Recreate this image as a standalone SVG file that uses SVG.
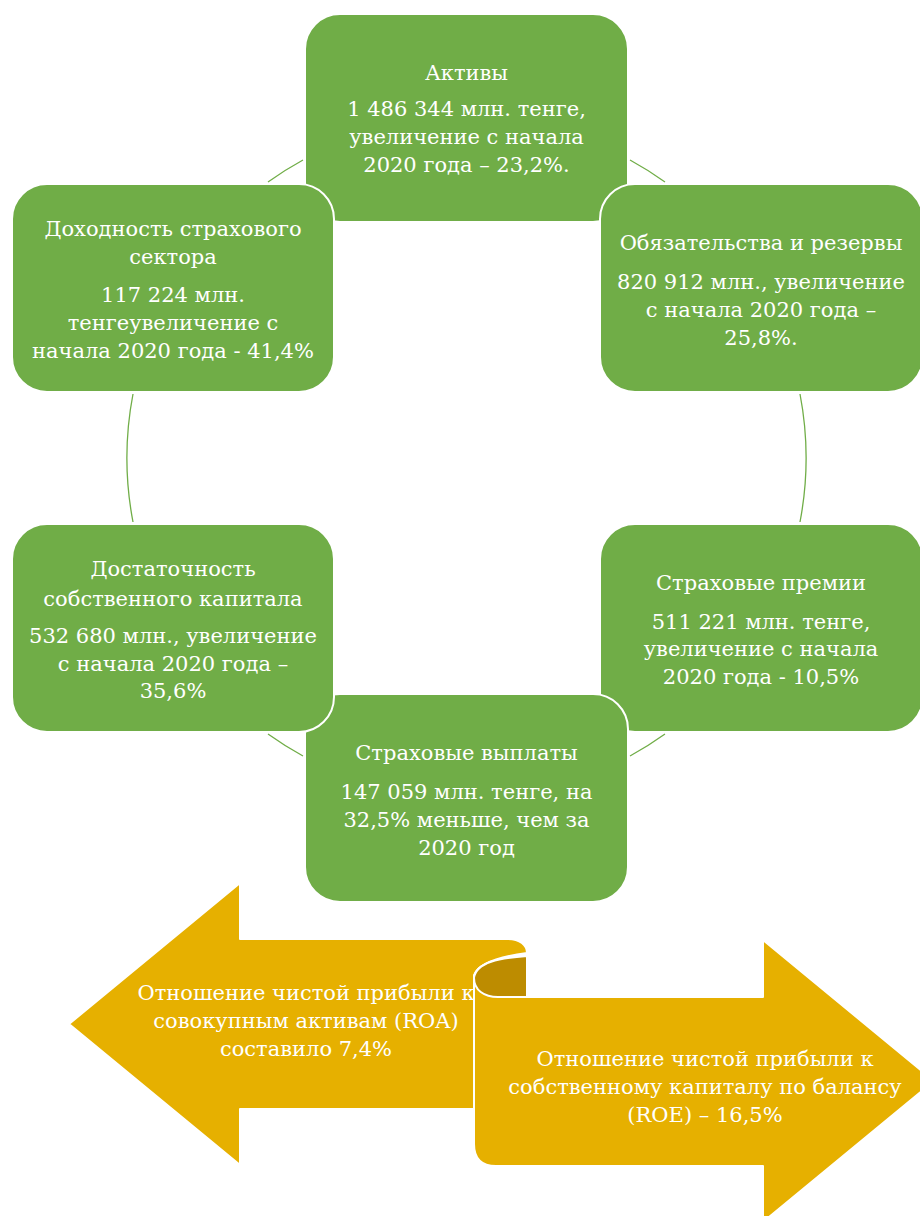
<svg xmlns="http://www.w3.org/2000/svg" width="920" height="1216" viewBox="0 0 920 1216">
<defs>
<style>
.box{fill:#70AD47;stroke:#FFFFFF;stroke-width:2}
.conn{fill:none;stroke:#70AD47;stroke-width:1.3}
.t{font-family:'DejaVu Serif','Liberation Serif',serif;font-size:21px;fill:#FFFFFF;text-anchor:middle}
.gold{fill:#E6B000;stroke:#FFFFFF;stroke-width:2;stroke-linejoin:round}
.dark{fill:#BD8C00;stroke:#FFFFFF;stroke-width:2;stroke-linejoin:round}
</style>
</defs>
<rect width="920" height="1216" fill="#FFFFFF"/>
<g id="connectors">
<path class="conn" d="M 268,182 A 340 340 0 0 1 303,160"/>
<path class="conn" d="M 630,160 A 340 340 0 0 1 665,182"/>
<path class="conn" d="M 800,394 A 340 340 0 0 1 800,522"/>
<path class="conn" d="M 665,734 A 340 340 0 0 1 630,756"/>
<path class="conn" d="M 303,756 A 340 340 0 0 1 268,734"/>
<path class="conn" d="M 133,522 A 340 340 0 0 1 133,394"/>
</g>
<g id="node-assets">
<rect class="box" x="305" y="14" width="323" height="208" rx="35"/>
<text class="t" x="466.5" y="80">Активы</text>
<text class="t" x="466.5" y="116">1 486 344 млн. тенге,</text>
<text class="t" x="466.5" y="144">увеличение с начала</text>
<text class="t" x="466.5" y="172">2020 года – 23,2%.</text>
</g>
<g id="node-liabilities">
<rect class="box" x="600" y="184" width="323" height="208" rx="35"/>
<text class="t" x="761" y="250">Обязательства и резервы</text>
<text class="t" x="761" y="289">820 912 млн., увеличение</text>
<text class="t" x="761" y="317">с начала 2020 года –</text>
<text class="t" x="761" y="345">25,8%.</text>
</g>
<g id="node-premiums">
<rect class="box" x="600" y="524" width="323" height="208" rx="35"/>
<text class="t" x="761" y="590">Страховые премии</text>
<text class="t" x="761" y="629">511 221 млн. тенге,</text>
<text class="t" x="761" y="656">увеличение с начала</text>
<text class="t" x="761" y="684">2020 года - 10,5%</text>
</g>
<g id="node-payments">
<rect class="box" x="305" y="694" width="323" height="208" rx="35"/>
<text class="t" x="466.5" y="760">Страховые выплаты</text>
<text class="t" x="466.5" y="799">147 059 млн. тенге, на</text>
<text class="t" x="466.5" y="827">32,5% меньше, чем за</text>
<text class="t" x="466.5" y="855">2020 год</text>
</g>
<g id="node-capital">
<rect class="box" x="12" y="524" width="322" height="208" rx="35"/>
<text class="t" x="173" y="576">Достаточность</text>
<text class="t" x="173" y="606">собственного капитала</text>
<text class="t" x="173" y="643">532 680 млн., увеличение</text>
<text class="t" x="173" y="671">с начала 2020 года –</text>
<text class="t" x="173" y="698">35,6%</text>
</g>
<g id="node-profitability">
<rect class="box" x="12" y="184" width="322" height="208" rx="35"/>
<text class="t" x="173" y="236">Доходность страхового</text>
<text class="t" x="173" y="264">сектора</text>
<text class="t" x="173" y="302">117 224 млн.</text>
<text class="t" x="173" y="330">тенгеувеличение с</text>
<text class="t" x="173" y="358">начала 2020 года - 41,4%</text>
</g>
<g id="arrow-roa">
<path class="gold" d="M 69,1024 L 240,883 L 240,939 L 507,939 C 520,939 527,945 527,953 C 512,955 480,960 474,975 L 474,1109 L 240,1109 L 240,1165 Z"/>
<text class="t" x="306" y="1000">Отношение чистой прибыли к</text>
<text class="t" x="306" y="1028">совокупным активам (ROA)</text>
<text class="t" x="306" y="1056">составило 7,4%</text>
</g>
<g id="arrow-roe">
<path class="gold" d="M 474,978 C 476,962 500,958 527,956 L 527,997 L 763,997 L 763,940 L 934,1081 L 763,1222 L 763,1166 L 496,1166 Q 474,1166 474,1144 Z"/>
<path class="dark" d="M 474,978 C 476,962 500,958 527,956 L 527,997 L 498,997 C 484,997 474,990 474,978 Z"/>
<text class="t" x="705" y="1066">Отношение чистой прибыли к</text>
<text class="t" x="705" y="1094">собственному капиталу по балансу</text>
<text class="t" x="705" y="1122">(ROE) – 16,5%</text>
</g>
</svg>
